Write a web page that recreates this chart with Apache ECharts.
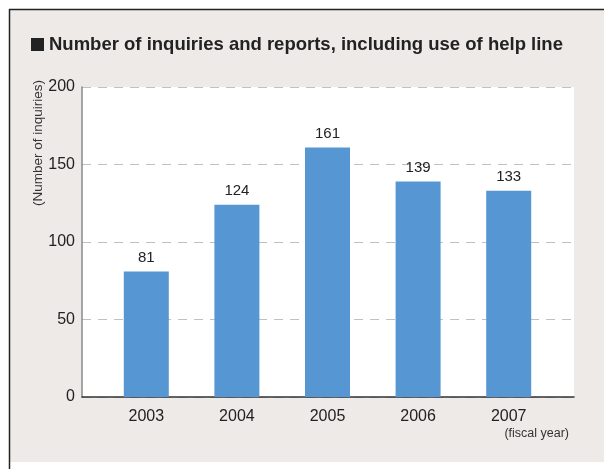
<!DOCTYPE html>
<html>
<head>
<meta charset="utf-8">
<script src="https://cdn.jsdelivr.net/npm/echarts@6/dist/echarts.min.js"></script>
<style>
html,body{margin:0;padding:0;background:#fff;}
#c{width:604px;height:469px;}
</style>
</head>
<body>
<div id="c"></div>
<script>
const categories = ['2003', '2004', '2005', '2006', '2007'];
const inquiries = [81, 124, 161, 139, 133];
const yTicks = { min: 0, max: 200, interval: 50 };
const titleText = 'Number of inquiries and reports, including use of help line';
const yAxisName = '(Number of inquiries)';
const xAxisUnit = '(fiscal year)';

const font = 'Liberation Sans, Arial, Helvetica, sans-serif';
const chart = echarts.init(document.getElementById('c'), null, { renderer: 'canvas' });
chart.setOption({
  backgroundColor: '#ffffff',
  animation: false,
  graphic: [
    { type: 'rect', z: -10, shape: { x: 10, y: 10, width: 594, height: 452 }, style: { fill: '#eeeae8' } },
    { type: 'line', shape: { x1: 9, y1: 9.5, x2: 604, y2: 9.5 }, style: { stroke: '#222', lineWidth: 1.5 } },
    { type: 'line', shape: { x1: 9.5, y1: 9, x2: 9.5, y2: 469 }, style: { stroke: '#222', lineWidth: 1.5 } },
    { type: 'rect', shape: { x: 31, y: 38, width: 13, height: 13 }, style: { fill: '#222' } },
    { type: 'text', x: 49, y: 45, style: { text: titleText, fontFamily: font, fontWeight: 'bold', fontSize: 18.5, fill: '#222', textVerticalAlign: 'middle' } },
    { type: 'text', x: 38, y: 80, rotation: Math.PI / 2, style: { text: yAxisName, fontFamily: font, fontSize: 13.5, fill: '#333', textAlign: 'right', textVerticalAlign: 'middle' } },
    { type: 'text', x: 569, y: 434, style: { text: xAxisUnit, fontFamily: font, fontSize: 12.5, fill: '#333', textAlign: 'right', textVerticalAlign: 'middle' } }
  ],
  grid: [
    { left: 82, right: 30, top: 87, bottom: 72, show: true, backgroundColor: '#ffffff', borderWidth: 0 },
    { left: 101, right: 50, top: 87, bottom: 72 }
  ],
  xAxis: [
    { gridIndex: 0, type: 'category', data: categories, axisLine: { lineStyle: { color: '#333', width: 1.5 } }, axisTick: { show: false }, axisLabel: { show: false } },
    { gridIndex: 1, type: 'category', data: categories, axisLine: { show: false }, axisTick: { show: false },
      axisLabel: { fontFamily: font, fontSize: 16, color: '#222', margin: 12 } }
  ],
  yAxis: [
    { gridIndex: 0, type: 'value', min: yTicks.min, max: yTicks.max, interval: yTicks.interval,
      axisLine: { show: true, lineStyle: { color: '#888', width: 1.5 } }, axisTick: { show: false },
      axisLabel: { fontFamily: font, fontSize: 16, color: '#222', margin: 7 },
      splitLine: { lineStyle: { color: '#c0c0c0', type: [9, 7], width: 1.2 } } },
    { gridIndex: 1, type: 'value', min: yTicks.min, max: yTicks.max, interval: yTicks.interval, show: false, splitLine: { show: false } }
  ],
  series: [{
    type: 'bar', xAxisIndex: 1, yAxisIndex: 1, data: inquiries, barWidth: 45,
    itemStyle: { color: '#5596d3' },
    label: { show: true, position: 'top', distance: 6, fontFamily: font, fontSize: 15, color: '#222' }
  }]
});
</script>
</body>
</html>
